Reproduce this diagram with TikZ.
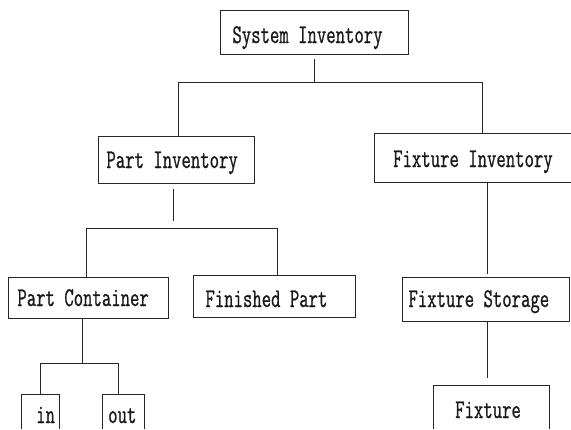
\documentclass[tikz,border=0pt]{standalone}
\usepackage{fontspec}
\usetikzlibrary{calc}
\newfontfamily\boxfont[FakeStretch=0.675,FakeBold=0.8]{Latin Modern Mono}
% box text: fixed box width, text set from the left with a given indent
\newcommand\cellText[3]{\makebox[#1][l]{\hspace*{#2}#3}}
\tikzset{
  treetext/.style={rectangle, inner sep=0pt, anchor=base west,
    font=\boxfont\fontsize{27}{29}\selectfont, text=black!90},
  treebox/.style={treetext, draw=black!85, line width=0.9pt},
  % boxes running off the page edge: outline drawn on three sides only
  openbox/.style={treetext},
  link/.style={draw=black!85, line width=0.9pt}
}
\begin{document}
\begin{tikzpicture}[x=1pt,y=-1pt]
\useasboundingbox (0,0) rectangle (571,429);
\fill[white] (0,0) rectangle (571,429);
\clip (0,0) rectangle (571,429);

% boxes: placed by left edge and baseline
\node[treebox, text height=33pt, text depth=11pt] (sys)      at (220,43)  {\cellText{188pt}{12pt}{System Inventory}};
\node[treebox, text height=32pt, text depth=15pt] (partinv)  at (98,168)  {\cellText{156pt}{8pt}{Part Inventory}};
\node[openbox, text height=33pt, text depth=15pt] (fixinv)   at (374,167) {\cellText{197pt}{19pt}{Fixture Inventory}};
\node[treebox, text height=29pt, text depth=12pt] (partcont) at (8,306)   {\cellText{160pt}{9pt}{Part Container}};
\node[treebox, text height=32pt, text depth=10pt] (finished) at (193,307) {\cellText{162pt}{12pt}{Finished Part}};
\node[treebox, text height=30pt, text depth=14pt] (fixstor)  at (402,307) {\cellText{167pt}{6pt}{Fixture Storage}};
\node[openbox, text height=32pt, text depth=11pt] (fixture)  at (433,418) {\cellText{116pt}{22pt}{Fixture}};
\node[openbox, text height=28pt, text depth=6pt]  (in)       at (21,423)  {\cellText{38pt}{15pt}{in}};
\node[openbox, text height=28pt, text depth=6pt]  (out)      at (102,423) {\cellText{42pt}{6pt}{out}};

% outlines of the boxes cut by the page edge
\draw[link] (fixinv.north east) -- (fixinv.north west) -- (fixinv.south west) -- (fixinv.south east);
\draw[link] (fixture.south west) -- (fixture.north west) -- (fixture.north east) -- (fixture.south east);
\draw[link] (in.south west) -- (in.north west) -- (in.north east) -- (in.south east);
\draw[link] (out.south west) -- (out.north west) -- (out.north east) -- (out.south east);

% junction points of the connectors
\coordinate (sysTap)  at (314,59);
\coordinate (sysBus)  at (314,82);
\coordinate (busL)    at (178,82);
\coordinate (busR)    at (482,82);
\coordinate (piTap)   at (173,189);
\coordinate (piEnd)   at (173,221);
\coordinate (pBusL)   at (86,228);
\coordinate (pBusR)   at (277,228);
\coordinate (fiTap)   at (487,182);
\coordinate (fsTap)   at (487,274);
\coordinate (fsLow)   at (487,321);
\coordinate (fxTap)   at (487,378);
\coordinate (pcTap)   at (82,318);
\coordinate (cBus)    at (82,363);
\coordinate (cBusL)   at (40,363);
\coordinate (cBusR)   at (118,363);

% System Inventory branches
\draw[link] (sysTap) -- (sysBus);
\draw[link] (busL) -- (busR);
\draw[link] (busL) -- (busL |- partinv.north);
\draw[link] (busR) -- (busR |- fixinv.north);

% Part Inventory branches
\draw[link] (piTap) -- (piEnd);
\draw[link] (pBusL) -- (pBusR);
\draw[link] (pBusL) -- (pBusL |- partcont.north);
\draw[link] (pBusR) -- (pBusR |- finished.north);

% Fixture chain
\draw[link] (fixinv.south -| fiTap) -- (fsTap);
\draw[link] (fsLow) -- (fxTap);

% Part Container branches
\draw[link] (partcont.south -| pcTap) -- (cBus);
\draw[link] (cBusL) -- (cBusR);
\draw[link] (cBusL) -- (cBusL |- in.north);
\draw[link] (cBusR) -- (cBusR |- out.north);
\end{tikzpicture}
\end{document}
